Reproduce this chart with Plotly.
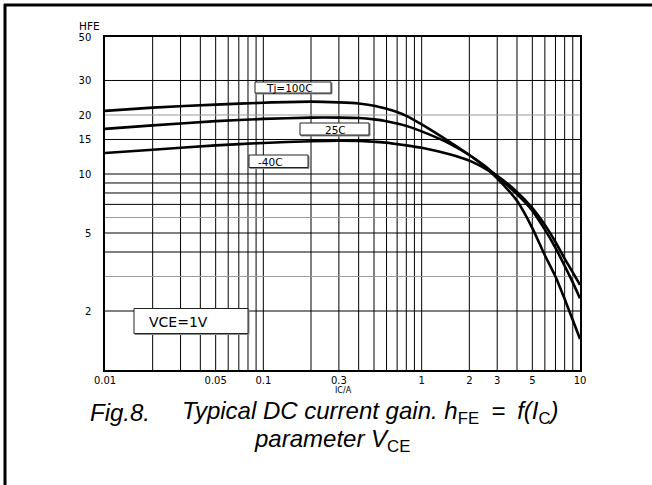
import math
import plotly.graph_objects as go

# ---------------- data ----------------
ic_a = [0.01, 0.02, 0.05, 0.1, 0.2, 0.3, 0.4, 0.5, 0.6, 0.7, 0.8, 1, 1.5, 2, 2.5, 3, 4, 5, 6, 7, 8, 9, 10]
hfe_tj100 = [21.0, 21.8, 22.6, 23.1, 23.4, 23.2, 22.9, 22.3, 21.5, 20.7, 19.8, 17.9, 14.6, 12.5, 10.9, 9.5, 7.3, 5.3, 3.85, 3.0, 2.3, 1.8, 1.44]
hfe_tj25 = [17.0, 17.7, 18.6, 19.1, 19.4, 19.4, 19.3, 19.0, 18.6, 18.1, 17.6, 16.5, 14.3, 12.5, 11.0, 9.7, 7.9, 6.5, 5.2, 4.2, 3.4, 2.8, 2.32]
hfe_tjm40 = [12.8, 13.3, 14.0, 14.4, 14.7, 14.8, 14.75, 14.6, 14.45, 14.2, 14.0, 13.6, 12.6, 11.7, 10.7, 9.8, 8.1, 6.7, 5.5, 4.5, 3.7, 3.15, 2.72]
series_names = ["Tj=100C", "25C", "-40C"]

x_tick_vals = [0.01, 0.05, 0.1, 0.3, 1, 2, 3, 5, 10]
x_tick_text = ["0.01", "0.05", "0.1", "0.3", "1", "2", "3", "5", "10"]
y_tick_vals = [2, 5, 10, 15, 20, 30, 50]
y_tick_text = ["2", "5", "10", "15", "20", "30", "50"]

x_grid_vals = [0.02, 0.03, 0.04, 0.05, 0.06, 0.07, 0.08, 0.09,
               0.1, 0.2, 0.3, 0.4, 0.5, 0.6, 0.7, 0.8, 0.9,
               1, 2, 3, 4, 5, 6, 7, 8, 9]
y_grid_black = [2, 4, 5, 7, 8, 9, 10, 15, 30]
y_grid_gray = [3, 6, 20]

X_MIN, X_MAX = 0.01, 10
Y_MIN, Y_MAX = 1, 50

# ---------------- geometry helpers (pixel -> paper) ----------------
W, H = 652, 485
ML, MR, MT, MB = 105, 72, 37, 115
PW, PH = W - ML - MR, H - MT - MB


def px(x):
    return (x - ML) / PW


def py(y):
    return (H - MB - y) / PH


fig = go.Figure()

# grid lines drawn as traces through the axes' own scales
gx, gy = [], []
for v in x_grid_vals:
    gx += [v, v, None]
    gy += [Y_MIN, Y_MAX, None]
for v in y_grid_black:
    gx += [X_MIN, X_MAX, None]
    gy += [v, v, None]
fig.add_trace(go.Scatter(x=gx, y=gy, mode="lines", line=dict(color="black", width=1),
                         hoverinfo="skip", showlegend=False))
hx, hy = [], []
for v in y_grid_gray:
    hx += [X_MIN, X_MAX, None]
    hy += [v, v, None]
fig.add_trace(go.Scatter(x=hx, y=hy, mode="lines", line=dict(color="#9a9a9a", width=1),
                         hoverinfo="skip", showlegend=False))

for name, ys in zip(series_names, [hfe_tj100, hfe_tj25, hfe_tjm40]):
    fig.add_trace(go.Scatter(x=ic_a, y=ys, mode="lines", name=name,
                             line=dict(color="black", width=2.6, shape="spline", smoothing=0.6),
                             showlegend=False))

label_font = "DejaVu Sans"

# label boxes (pixel rectangles) with a slight shadow
boxes = [
    # (x0, y0, x1, y1, text, text_x, text_y, anchor, size)
    (255, 82, 331, 93, "Tj=100C", 264, 88, "left", 10.5),
    (300, 123, 369, 135, "25C", 335, 129.5, "center", 10.5),
    (249, 155, 308, 167.5, "-40C", 256, 161.5, "left", 10.5),
    (134, 308.5, 248, 333.5, "VCE=1V", 147, 321.5, "left", 14),
]
shapes = []
annotations = []
for x0, y0, x1, y1, txt, tx, ty, anc, sz in boxes:
    shapes.append(dict(type="rect", xref="paper", yref="paper", layer="above",
                       x0=px(x0 + 1), x1=px(x1 + 1), y0=py(y1 + 1), y1=py(y0 + 1),
                       line=dict(color="#8a8a8a", width=1), fillcolor="#8a8a8a"))
    shapes.append(dict(type="rect", xref="paper", yref="paper", layer="above",
                       x0=px(x0), x1=px(x1), y0=py(y1), y1=py(y0),
                       line=dict(color="#222222", width=1), fillcolor="white"))
    annotations.append(dict(text=txt, xref="paper", yref="paper", x=px(tx), y=py(ty),
                            xanchor=anc, yanchor="middle", showarrow=False,
                            font=dict(family=label_font, size=sz, color="black")))

# outer frame (left and top edges)
shapes.append(dict(type="line", xref="paper", yref="paper", x0=px(5), x1=px(5),
                   y0=py(4), y1=py(H + 2), line=dict(color="black", width=3)))
shapes.append(dict(type="line", xref="paper", yref="paper", x0=px(4), x1=px(W + 2),
                   y0=py(5), y1=py(5), line=dict(color="black", width=3)))

# axis titles
annotations.append(dict(text="HFE", xref="paper", yref="paper", x=px(89), y=py(26),
                        xanchor="center", yanchor="middle", showarrow=False,
                        font=dict(family=label_font, size=10.5, color="black")))
annotations.append(dict(text="IC/A", xref="paper", yref="paper", x=px(343), y=py(390.5),
                        xanchor="center", yanchor="middle", showarrow=False,
                        font=dict(family=label_font, size=8, color="black")))

# caption
cap_font = dict(family="Liberation Sans, Arial, sans-serif", size=24, color="black")
cap_parts = [
    ("<i>Fig.8.</i>", 88, "left"),
    ("<i>Typical DC current gain. h</i><sub>FE</sub><i>\u2002=\u2002f(I</i><sub>C</sub><i>)</i>",
     180, "left"),
]
for txt, xx, anc in cap_parts:
    annotations.append(dict(text=txt, xref="paper", yref="paper", x=px(xx), y=py(412.5),
                            xanchor=anc, yanchor="middle", showarrow=False, font=cap_font))
annotations.append(dict(
    text="<i>parameter V</i><sub>CE</sub>",
    xref="paper", yref="paper", x=px(331.5), y=py(440.5), xanchor="center", yanchor="middle",
    showarrow=False, font=cap_font))

axis_common = dict(type="log", showgrid=False, zeroline=False, showline=True, mirror=True,
                   linecolor="black", linewidth=1.5, ticks="", ticklen=0,
                   tickfont=dict(family=label_font, size=10, color="black"))

fig.update_layout(
    width=W, height=H,
    margin=dict(l=ML, r=MR, t=MT, b=MB),
    paper_bgcolor="white", plot_bgcolor="white",
    showlegend=False,
    xaxis=dict(range=[math.log10(X_MIN), math.log10(X_MAX)], tickmode="array",
               tickvals=x_tick_vals, ticktext=x_tick_text, ticklabelstandoff=0, **axis_common),
    yaxis=dict(range=[math.log10(Y_MIN), math.log10(Y_MAX)], tickmode="array",
               tickvals=y_tick_vals, ticktext=y_tick_text, ticklabelstandoff=10, **axis_common),
    shapes=shapes,
    annotations=annotations,
)

fig.write_html("out.html", config={"displayModeBar": False},
               post_script="document.body.style.margin='0';")
